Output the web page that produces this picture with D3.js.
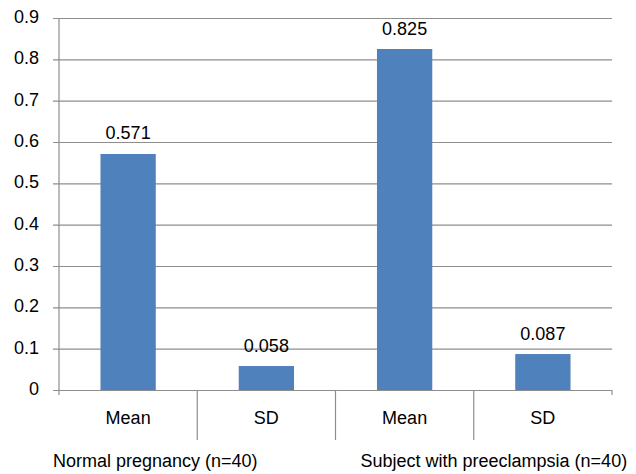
<!DOCTYPE html>
<html>
<head>
<meta charset="utf-8">
<script src="https://cdn.jsdelivr.net/npm/d3@7"></script>
<style>
  html, body { margin: 0; padding: 0; background: #fff; }
  svg { display: block; }
  text { font-family: "Liberation Sans", Arial, sans-serif; fill: #000; }
</style>
</head>
<body>
<svg id="chart" width="636" height="474"></svg>
<script>
// Data
const categories = ["Mean", "SD", "Mean", "SD"];
const groups = ["Normal pregnancy (n=40)", "Subject with preeclampsia (n=40)"];
const values = [0.571, 0.058, 0.825, 0.087];
const valueLabels = ["0.571", "0.058", "0.825", "0.087"];
const yTicks = [0, 0.1, 0.2, 0.3, 0.4, 0.5, 0.6, 0.7, 0.8, 0.9];

(function () {
const svg = d3.select("#chart");
const mLeft = 59, mRight = 612, mTop = 18, mBottom = 390;
const gridColor = "#8e8e8e";

const keys = categories.map((c, i) => i);
const x = d3.scaleBand().domain(keys).range([mLeft, mRight]).paddingInner(0.6).paddingOuter(0.3);
const y = d3.scaleLinear().domain([0, 0.9]).range([mBottom, mTop]);
const step = x.step();

// Gridlines + y tick labels
const yAxis = d3.axisLeft(y).tickValues(yTicks).tickSize(-(mRight - mLeft)).tickFormat(d3.format("~g")).tickPadding(0);
const gy = svg.append("g").attr("transform", `translate(${mLeft},0)`).call(yAxis);
gy.select(".domain").remove();
gy.selectAll(".tick line").attr("x1", -6).attr("x2", mRight - mLeft).attr("stroke", gridColor).attr("stroke-width", 1.2);
gy.selectAll(".tick text")
  .attr("x", -20).attr("dy", "0.25em")
  .style("font-size", "18px").style("font-family", "'Liberation Sans', Arial, sans-serif").attr("fill", "#000");

// Y axis line
svg.append("line").attr("x1", mLeft).attr("x2", mLeft).attr("y1", mTop).attr("y2", mBottom)
  .attr("stroke", gridColor).attr("stroke-width", 1.2);

// Category separators on x axis
const bounds = d3.range(categories.length + 1).map(i => mLeft + i * step);
svg.selectAll("line.sep").data(bounds).enter().append("line")
  .attr("class", "sep")
  .attr("x1", d => d).attr("x2", d => d)
  .attr("y1", mBottom)
  .attr("y2", (d, i) => (i === 0 || i === bounds.length - 1) ? mBottom + 5 : 440)
  .attr("stroke", gridColor).attr("stroke-width", 1.2);

// Bars
svg.selectAll("rect.bar").data(values).enter().append("rect")
  .attr("class", "bar")
  .attr("x", (d, i) => x(i))
  .attr("width", x.bandwidth())
  .attr("y", d => y(d))
  .attr("height", d => y(0) - y(d))
  .attr("fill", "#4F81BD");

// Value labels
svg.selectAll("text.val").data(values).enter().append("text")
  .attr("class", "val")
  .attr("x", (d, i) => x(i) + x.bandwidth() / 2)
  .attr("y", d => y(d) - 14.5)
  .attr("text-anchor", "middle")
  .style("font-size", "18px")
  .text((d, i) => valueLabels[i]);

// Category labels
svg.selectAll("text.cat").data(categories).enter().append("text")
  .attr("class", "cat")
  .attr("x", (d, i) => x(i) + x.bandwidth() / 2)
  .attr("y", 424)
  .attr("text-anchor", "middle")
  .style("font-size", "18px")
  .text(d => d);

// Group labels
const groupX = [mLeft - 6, mLeft + 2 * step + 25];
svg.selectAll("text.grp").data(groups).enter().append("text")
  .attr("class", "grp")
  .attr("x", (d, i) => groupX[i])
  .attr("y", 467)
  .attr("text-anchor", "start")
  .style("font-size", "18px")
  .text(d => d);
})();
</script>
</body>
</html>
